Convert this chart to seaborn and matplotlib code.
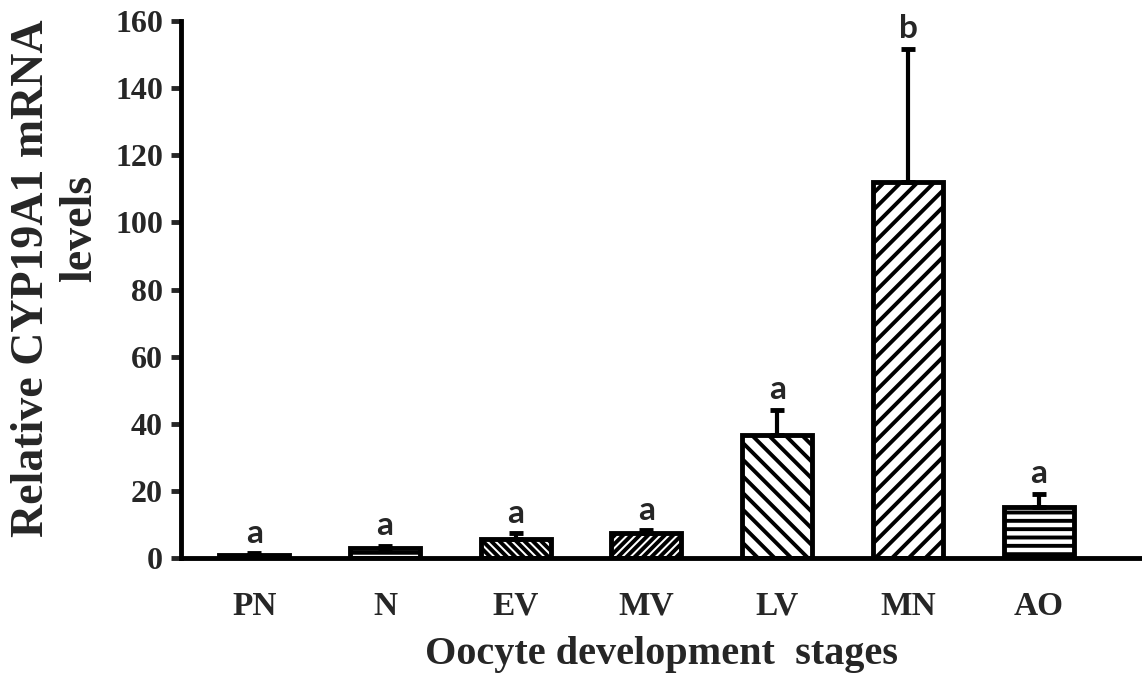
import numpy as np
import pandas as pd
import matplotlib
matplotlib.use("Agg")
import matplotlib.pyplot as plt
import seaborn as sns

# values
stages = ["PN", "N", "EV", "MV", "LV", "MN", "AO"]
levels = [1.0, 3.0, 5.8, 7.3, 36.6, 112.0, 15.2]
errors = [0.4, 0.6, 1.5, 1.0, 7.6, 39.8, 4.0]
letters = ["a", "a", "a", "a", "a", "b", "a"]
hatches = ["......", "---", "\\\\\\\\", "////", "\\\\", "//", "--"]

df = pd.DataFrame({"stage": stages, "level": levels})

sns.set_style("white")
plt.rcParams["font.family"] = ["Liberation Serif", "DejaVu Serif"]
plt.rcParams["hatch.linewidth"] = 2.8
plt.rcParams["hatch.color"] = "black"

fig = plt.figure(figsize=(11.42, 6.78), dpi=100)
ax = fig.add_axes([0.1585, 0.177, 0.8415, 0.792])

sns.barplot(data=df, x="stage", y="level", order=stages, color="white",
            edgecolor="black", linewidth=3.5, width=0.535, errorbar=None,
            saturation=1, ax=ax)

for patch, h in zip(ax.patches, hatches):
    patch.set_hatch(h)
    patch.set_facecolor("white")

x = np.arange(len(stages))
ax.errorbar(x, levels, yerr=[np.zeros(len(errors)), errors], fmt="none",
            ecolor="black", elinewidth=3, capsize=5, capthick=3.5, zorder=1)

for xi, v, e, t in zip(x, levels, errors, letters):
    ax.annotate(t, (xi, v + e), xytext=(0, 4), textcoords="offset points",
                ha="center", va="bottom", fontsize=24, fontweight="bold",
                family="Lato")

ax.set_ylim(0, 160)
ax.set_yticks(range(0, 161, 20))
ax.set_xlim(-0.56, 6.79)

for side in ["top", "right"]:
    ax.spines[side].set_visible(False)
for side in ["left", "bottom"]:
    ax.spines[side].set_linewidth(3.5)
    ax.spines[side].set_color("black")

ax.tick_params(axis="y", which="both", left=True, direction="out", length=7,
               width=3.5, labelsize=23, pad=6)
ax.tick_params(axis="x", bottom=False, labelsize=24, pad=20)
for lab in ax.get_xticklabels() + ax.get_yticklabels():
    lab.set_fontweight("bold")

ax.set_xlabel("Oocyte development  stages", fontsize=29, fontweight="bold",
              labelpad=10)

# two-line y label, second line sits off-centre as in the reference
ax.set_ylabel("Relative CYP19A1 mRNA", fontsize=33, fontweight="bold")
ax.yaxis.set_label_coords(-0.155, 0.521)
ax.yaxis.label.set_verticalalignment("center")
ax.text(-0.105, 0.613, "levels", transform=ax.transAxes, rotation=90,
        ha="center", va="center", fontsize=33, fontweight="bold")

fig.savefig("out.png", dpi=100)
